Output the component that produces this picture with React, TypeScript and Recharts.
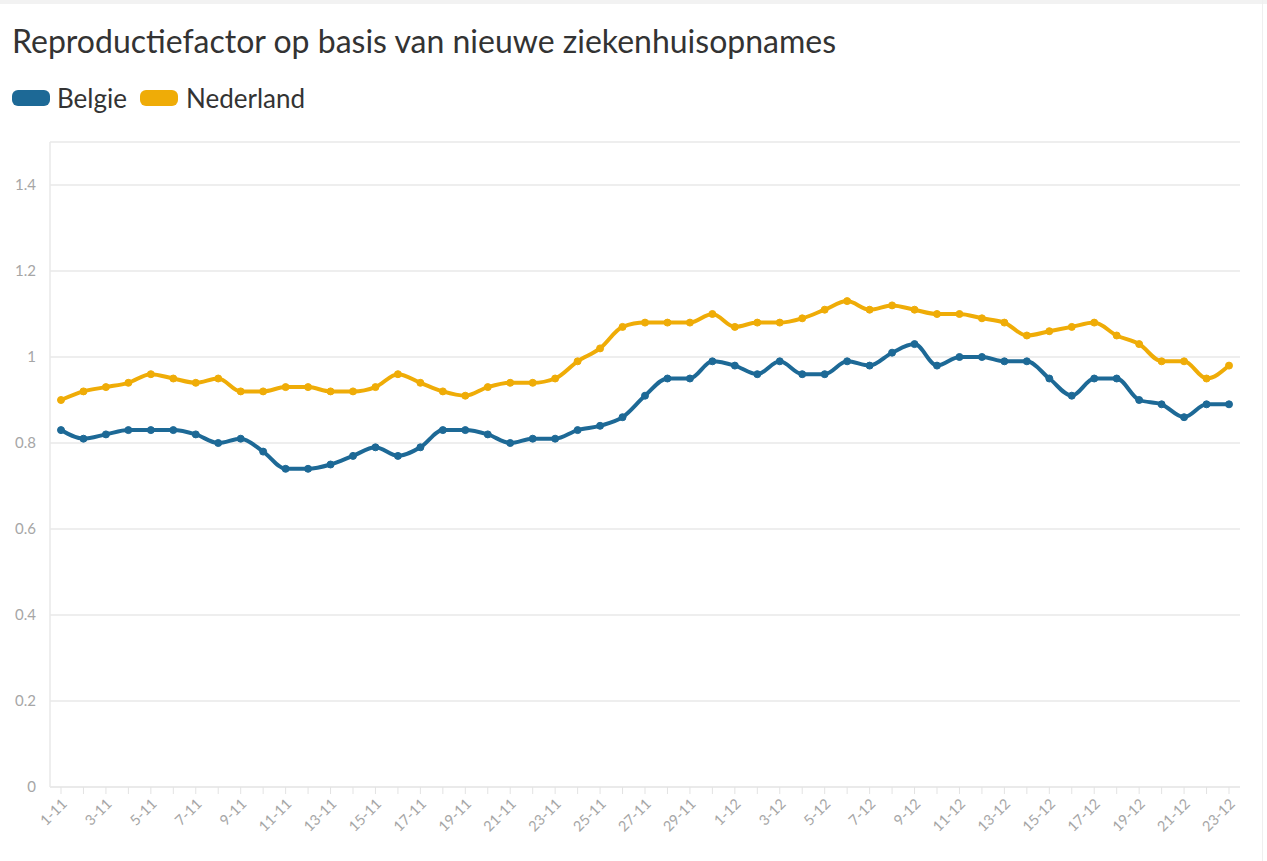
import { CartesianGrid, Line, LineChart, XAxis, YAxis } from "recharts";

const dagen = [
  "1-11", "2-11", "3-11", "4-11", "5-11", "6-11", "7-11", "8-11", "9-11", "10-11",
  "11-11", "12-11", "13-11", "14-11", "15-11", "16-11", "17-11", "18-11", "19-11", "20-11",
  "21-11", "22-11", "23-11", "24-11", "25-11", "26-11", "27-11", "28-11", "29-11", "30-11",
  "1-12", "2-12", "3-12", "4-12", "5-12", "6-12", "7-12", "8-12", "9-12", "10-12",
  "11-12", "12-12", "13-12", "14-12", "15-12", "16-12", "17-12", "18-12", "19-12", "20-12",
  "21-12", "22-12", "23-12",
];

const belgie = [
  0.83, 0.81, 0.82, 0.83, 0.83, 0.83, 0.82, 0.8, 0.81, 0.78,
  0.74, 0.74, 0.75, 0.77, 0.79, 0.77, 0.79, 0.83, 0.83, 0.82,
  0.8, 0.81, 0.81, 0.83, 0.84, 0.86, 0.91, 0.95, 0.95, 0.99,
  0.98, 0.96, 0.99, 0.96, 0.96, 0.99, 0.98, 1.01, 1.03, 0.98,
  1.0, 1.0, 0.99, 0.99, 0.95, 0.91, 0.95, 0.95, 0.9, 0.89,
  0.86, 0.89, 0.89,
];

const nederland = [
  0.9, 0.92, 0.93, 0.94, 0.96, 0.95, 0.94, 0.95, 0.92, 0.92,
  0.93, 0.93, 0.92, 0.92, 0.93, 0.96, 0.94, 0.92, 0.91, 0.93,
  0.94, 0.94, 0.95, 0.99, 1.02, 1.07, 1.08, 1.08, 1.08, 1.1,
  1.07, 1.08, 1.08, 1.09, 1.11, 1.13, 1.11, 1.12, 1.11, 1.1,
  1.1, 1.09, 1.08, 1.05, 1.06, 1.07, 1.08, 1.05, 1.03, 0.99,
  0.99, 0.95, 0.98,
];

const yTicks = [0, 0.2, 0.4, 0.6, 0.8, 1, 1.2, 1.4];

const BLAUW = "#1d6996";
const GEEL = "#efac07";
const FONT = "'Source Sans Pro', Lato, 'Noto Sans', sans-serif";

const data = dagen.map((dag, i) => ({ dag, belgie: belgie[i], nederland: nederland[i] }));

// only every other date gets a label, the tick marks stay on every day
function DagTick(props: any) {
  const { x, y, payload, index } = props;
  if (index % 2 !== 0) return null;
  return (
    <g transform={`translate(${x + 4},${y + 6})`}>
      <text textAnchor="end" transform="rotate(-45)" fill="#a6a6a6" fontSize={14.5} fontFamily={FONT} dy={4}>
        {payload.value}
      </text>
    </g>
  );
}

export default function App() {
  return (
    <div
      style={{
        position: "absolute",
        top: 0,
        left: 0,
        width: 1267,
        height: 861,
        background: "#fff",
        fontFamily: FONT,
        overflow: "hidden",
      }}
    >
      <div style={{ position: "absolute", top: 0, left: 0, width: 1267, height: 4, background: "#f2f2f2" }} />
      <div style={{ position: "absolute", top: 0, right: 4, width: 1, height: 861, background: "#efefef" }} />
      <div style={{ position: "absolute", left: 12, top: 21, fontSize: 32, color: "#333", whiteSpace: "nowrap" }}>
        Reproductiefactor op basis van nieuwe ziekenhuisopnames
      </div>
      <div style={{ position: "absolute", left: 12, top: 82, display: "flex", alignItems: "center", fontSize: 26, color: "#333" }}>
        <span style={{ display: "inline-block", width: 38, height: 16, borderRadius: 6, background: BLAUW, marginRight: 7 }} />
        <span style={{ marginRight: 13 }}>Belgie</span>
        <span style={{ display: "inline-block", width: 38, height: 16, borderRadius: 6, background: GEEL, marginRight: 8 }} />
        <span>Nederland</span>
      </div>
      <div style={{ position: "absolute", top: 0, left: 0 }}>
        <LineChart width={1267} height={861} data={data} margin={{ top: 142, right: 27, left: 10, bottom: 0 }}>
          <CartesianGrid vertical={false} stroke="#e8e8e8" strokeWidth={1.5} />
          <XAxis
            dataKey="dag"
            interval={0}
            height={74}
            padding={{ left: 11, right: 11 }}
            tick={<DagTick />}
            tickSize={7}
            tickLine={{ stroke: "#e3e3e3" }}
            axisLine={{ stroke: "#e8e8e8", strokeWidth: 1.5 }}
          />
          <YAxis
            width={40}
            domain={[0, 1.5]}
            ticks={yTicks}
            tickLine={false}
            tickSize={0}
            tickMargin={14}
            axisLine={{ stroke: "#e8e8e8", strokeWidth: 1.5 }}
            tick={{ fill: "#a6a6a6", fontSize: 15, fontFamily: FONT }}
          />
          <Line
            type="monotone"
            dataKey="nederland"
            stroke={GEEL}
            strokeWidth={4}
            dot={{ r: 3.5, fill: GEEL, stroke: GEEL, strokeWidth: 1 }}
            isAnimationActive={false}
          />
          <Line
            type="monotone"
            dataKey="belgie"
            stroke={BLAUW}
            strokeWidth={4}
            dot={{ r: 3.5, fill: BLAUW, stroke: BLAUW, strokeWidth: 1 }}
            isAnimationActive={false}
          />
        </LineChart>
      </div>
    </div>
  );
}
